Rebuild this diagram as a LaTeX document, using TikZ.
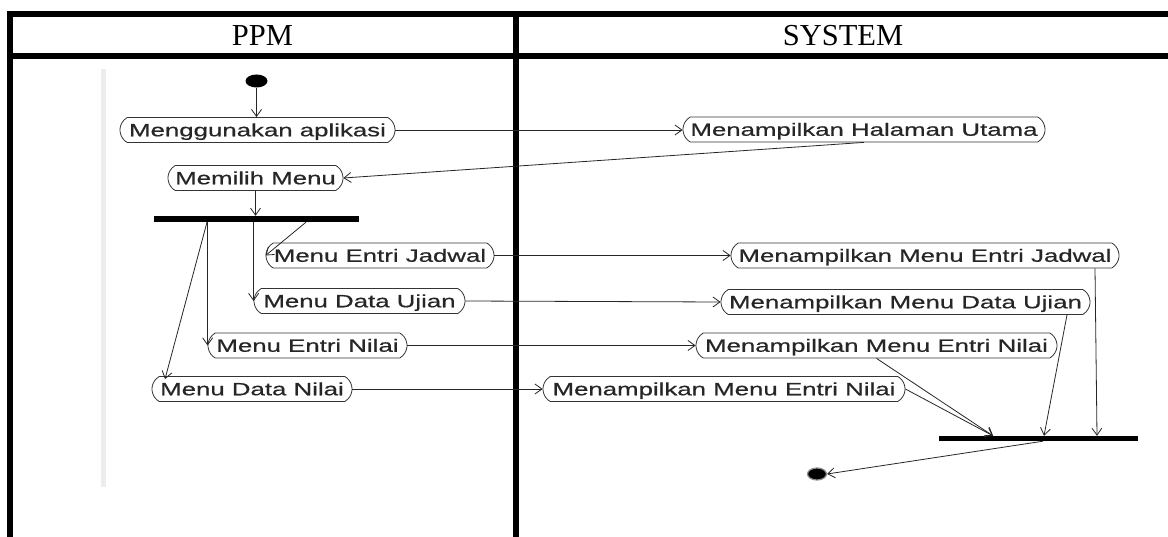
\documentclass[tikz,border=0pt]{standalone}
\usepackage{fontspec}
\setmainfont{Liberation Serif}
\newfontfamily\umlfont[FakeStretch=1.45,FakeBold=0.6]{Liberation Sans}
\usetikzlibrary{shapes.misc,shapes.geometric,arrows.meta}

\begin{document}
\begin{tikzpicture}[x=1pt,y=-1pt,
  act/.style={rounded rectangle, rounded rectangle arc length=120,
    draw=black!80, line width=0.8pt, minimum height=25pt,
    inner xsep=0pt, inner ysep=0pt, text height=12.6pt, text depth=0pt,
    font=\umlfont\fontsize{17.8}{20}\selectfont, text=black!85},
  flow/.style={draw=black!85, line width=0.8pt,
    -{Straight Barb[length=7pt,width=10pt]}},
  syncbar/.style={rectangle, fill=black, draw=none, inner sep=0pt},
  head/.style={font=\fontsize{30.5}{34}\selectfont, anchor=base, inner sep=0pt},
  rule/.style={fill=black}
]
\useasboundingbox (0,0) rectangle (1168,537);

% swimlane table
\fill[rule] (7,11) rectangle (1168,17);
\fill[rule] (7,53) rectangle (1168,59.5);
\fill[rule] (7,11) rectangle (13,537);
\fill[rule] (513,11) rectangle (519,537);
\node[head] (hppm) at (262.5,46) {PPM};
\node[head] (hsys) at (843,46) {SYSTEM};

% faint edge of the activity frame
\fill[black!7] (101,69) rectangle (106,487);

% initial and final states
\node[ellipse, fill=black, minimum width=22pt, minimum height=13pt, inner sep=0pt] (start) at (256.5,81) {};
\node[ellipse, fill=black, draw=black!45, line width=1.2pt, minimum width=19pt, minimum height=12pt, inner sep=0pt] (end) at (817,474) {};

% PPM activities
\node[act, minimum width=275pt] (use) at (257.5,130) {Menggunakan aplikasi};
\node[act, minimum width=175pt] (mem) at (255.5,178) {Memilih Menu};
\node[act, minimum width=228pt] (mej) at (380,255.5) {Menu Entri Jadwal};
\node[act, minimum width=211pt] (mdu) at (359.5,301) {Menu Data Ujian};
\node[act, minimum width=199pt] (men) at (307.5,345.5) {Menu Entri Nilai};
\node[act, minimum width=200pt] (mdn) at (252,389) {Menu Data Nilai};

% SYSTEM activities
\node[act, minimum width=362pt] (shu) at (864,129.5) {Menampilkan Halaman Utama};
\node[act, minimum width=388pt] (sej) at (925,255.5) {Menampilkan Menu Entri Jadwal};
\node[act, minimum width=369pt] (sdu) at (905.5,302) {Menampilkan Menu Data Ujian};
\node[act, minimum width=361pt] (sen1) at (876.5,345.5) {Menampilkan Menu Entri Nilai};
\node[act, minimum width=362pt] (sen2) at (724,389) {Menampilkan Menu Entri Nilai};

% fork and join bars
\node[syncbar, minimum width=205pt, minimum height=6pt] (fork) at (256.5,219) {};
\node[syncbar, minimum width=199pt, minimum height=5pt] (join) at (1038.5,438.5) {};

% control flow
\draw[flow] (start.south) -- (start.south |- use.north);
\draw[flow] (use.east) -- (use.east -| shu.west);
\draw[flow] (shu.south) -- (mem.east);
\draw[flow] (mem.south) -- (mem.south |- fork.north);
\draw[flow] ([xshift=49.5pt]fork.south) -- (mej.west);
\draw[flow] (mdu.west |- fork.south) -- (mdu.west);
\draw[flow] (men.west |- fork.south) -- (men.west);
\draw[flow] ([xshift=-49.5pt]fork.south) -- ([xshift=-87pt,yshift=-3pt]mdn.north);
\draw[flow] (mej.east) -- (sej.west);
\draw[flow] (mdu.east) -- (sdu.west);
\draw[flow] (men.east) -- (sen1.west);
\draw[flow] (mdn.east) -- (sen2.west);
\draw[flow] ([xshift=170pt]sej.south) -- ([xshift=58.5pt]join.north);
\draw[flow] ([xshift=161.5pt]sdu.south) -- ([xshift=5.5pt]join.north);
\draw[flow] (sen1.south) -- ([xshift=-45.5pt]join.north);
\draw[flow] (sen2.east) -- ([xshift=-45.5pt]join.north);
\draw[flow] ([xshift=4.5pt]join.south) -- (end.east);
\end{tikzpicture}
\end{document}
